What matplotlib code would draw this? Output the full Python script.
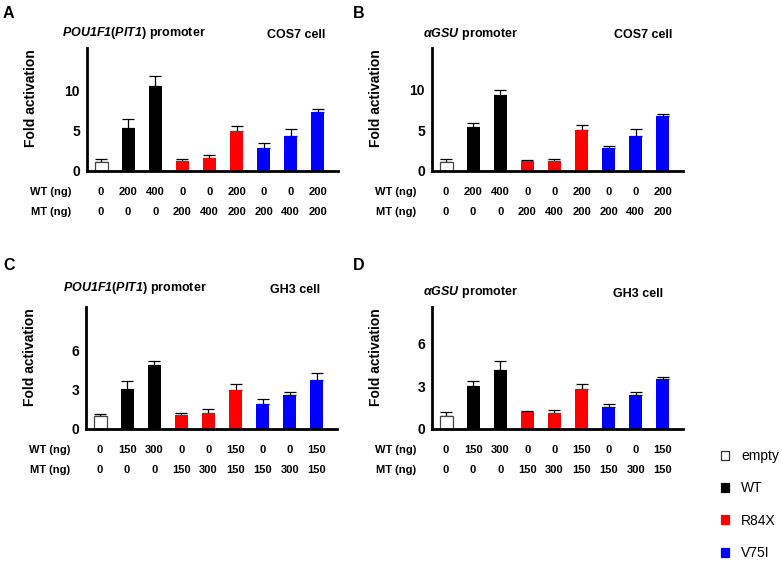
import numpy as np
import matplotlib
matplotlib.use("Agg")
import matplotlib.pyplot as plt
from matplotlib import transforms
from matplotlib.patches import Patch

plt.rcParams['font.family'] = ['Liberation Sans', 'DejaVu Sans']
plt.rcParams['mathtext.fontset'] = 'custom'
plt.rcParams['mathtext.rm'] = 'Liberation Sans:bold'
plt.rcParams['mathtext.it'] = 'Liberation Sans:italic:bold'
plt.rcParams['mathtext.sf'] = 'Liberation Sans:italic:bold'
plt.rcParams['mathtext.bf'] = 'Liberation Sans:bold'

# ---------------- data ----------------
groups = ['empty', 'WT', 'WT', 'R84X', 'R84X', 'R84X', 'V75I', 'V75I', 'V75I']
wt_cos = ['0', '200', '400', '0', '0', '200', '0', '0', '200']
mt_cos = ['0', '0', '0', '200', '400', '200', '200', '400', '200']
wt_gh3 = ['0', '150', '300', '0', '0', '150', '0', '0', '150']
mt_gh3 = ['0', '0', '0', '150', '300', '150', '150', '300', '150']

A_mean = [1.15, 5.35, 10.5, 1.23, 1.6, 4.98, 2.84, 4.32, 7.28]
A_err = [0.37, 1.03, 1.2, 0.21, 0.38, 0.62, 0.58, 0.87, 0.42]
B_mean = [1.15, 5.35, 9.3, 1.19, 1.23, 4.98, 2.84, 4.32, 6.7]
B_err = [0.37, 0.55, 0.6, 0.21, 0.29, 0.62, 0.29, 0.87, 0.3]
C_mean = [0.96, 3.05, 4.9, 1.1, 1.25, 3.0, 1.9, 2.6, 3.75]
C_err = [0.2, 0.63, 0.3, 0.15, 0.26, 0.4, 0.35, 0.22, 0.5]
D_mean = [0.94, 3.01, 4.14, 1.18, 1.15, 2.82, 1.58, 2.42, 3.5]
D_err = [0.24, 0.38, 0.68, 0.09, 0.17, 0.33, 0.16, 0.19, 0.17]

pit_title = r'$\mathsf{POU1F1}\mathrm{(}\mathsf{PIT1}\mathrm{)\ promoter}$'
gsu_title = '$\\mathsf{\u03b1GSU}\\mathrm{\\ promoter}$'

colors = {'empty': 'white', 'WT': 'black', 'R84X': '#ff0000', 'V75I': '#0000ff'}

W, H = 782, 561
fig = plt.figure(figsize=(W / 100, H / 100), dpi=100)


def fx(px):
    return px / W


def fy(py):
    return 1 - py / H


def panel(left, top, bottom, ymax, yticks, means, errs, wt, mt, letter,
          letter_xy, title, title_xy, cell, cell_xy):
    right = left + 251
    ax = fig.add_axes([fx(left), fy(bottom), (right - left) / W, (bottom - top) / H])
    x = np.arange(len(means))
    for i in range(len(means)):
        g = groups[i]
        ax.bar(x[i], means[i], width=0.48, color=colors[g],
               edgecolor='#444444' if g == 'empty' else colors[g],
               linewidth=0.9 if g == 'empty' else 0, zorder=3)
        ax.errorbar(x[i], means[i], yerr=[[0], [errs[i]]], fmt='none',
                    ecolor='black', elinewidth=0.9, capsize=4.2,
                    capthick=0.9, zorder=2)
    ax.set_xlim(-0.517, 8.745)
    ax.set_ylim(0, ymax)
    ax.set_yticks(yticks)
    ax.set_yticklabels([str(v) for v in yticks], fontsize=10, fontweight='bold')
    ax.set_xticks([])
    ax.tick_params(axis='y', length=0, pad=5)
    for s in ['top', 'right']:
        ax.spines[s].set_visible(False)
    for s in ['left', 'bottom']:
        ax.spines[s].set_linewidth(2.0)
        ax.spines[s].set_zorder(5)
    ax.set_ylabel('Fold activation', fontsize=10, fontweight='bold')
    ax.yaxis.set_label_coords(-0.196, 0.59)

    tr = transforms.blended_transform_factory(ax.transData, fig.transFigure)
    y_wt = bottom + 21
    y_mt = bottom + 41
    for i in range(len(means)):
        ax.text(x[i], fy(y_wt), wt[i], transform=tr, ha='center', va='center',
                fontsize=8, fontweight='bold')
        ax.text(x[i], fy(y_mt), mt[i], transform=tr, ha='center', va='center',
                fontsize=8, fontweight='bold')
    fig.text(fx(left - 16), fy(y_wt), 'WT (ng)', ha='right', va='center',
             fontsize=8, fontweight='bold')
    fig.text(fx(left - 16), fy(y_mt), 'MT (ng)', ha='right', va='center',
             fontsize=8, fontweight='bold')

    fig.text(fx(letter_xy[0]), fy(letter_xy[1]), letter, fontsize=11.5,
             fontweight='bold', ha='left', va='baseline')
    fig.text(fx(title_xy[0]), fy(title_xy[1]), title, fontsize=9,
             ha='left', va='baseline')
    fig.text(fx(cell_xy[0]), fy(cell_xy[1]), cell, fontsize=9, fontweight='bold',
             ha='left', va='baseline')
    return ax


panel(87, 48, 171, 15.2, [0, 5, 10], A_mean, A_err, wt_cos, mt_cos,
      'A', (3, 18.5), pit_title, (62, 36), 'COS7 cell', (267, 37.5))
panel(432, 48, 171, 15.1, [0, 5, 10], B_mean, B_err, wt_cos, mt_cos,
      'B', (353, 18.5), gsu_title, (423, 36.5), 'COS7 cell', (614, 38))
panel(86, 307, 429, 9.3, [0, 3, 6], C_mean, C_err, wt_gh3, mt_gh3,
      'C', (3, 269.5), pit_title, (63, 291.5), 'GH3 cell', (270, 293.3))
panel(432, 307, 429, 8.6, [0, 3, 6], D_mean, D_err, wt_gh3, mt_gh3,
      'D', (353, 269.5), gsu_title, (423, 295.5), 'GH3 cell', (613, 297.3))

legend_labels = ['empty', 'WT', 'R84X', 'V75I']
handles = [Patch(facecolor=colors[k], edgecolor='#333333' if k == 'empty' else colors[k],
                 linewidth=0.9) for k in legend_labels]
fig.legend(handles, legend_labels, loc='upper left',
           bbox_to_anchor=(fx(721), fy(449)), frameon=False, fontsize=10,
           handlelength=0.6, handleheight=0.6, handletextpad=0.85,
           labelspacing=1.32, borderpad=0, borderaxespad=0)

fig.savefig('out.png', dpi=100)
